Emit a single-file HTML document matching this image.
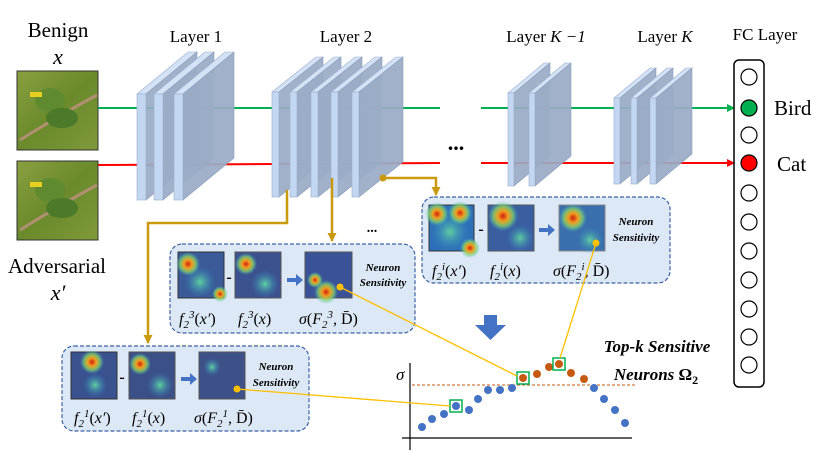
<!DOCTYPE html>
<html><head><meta charset="utf-8"><style>
html,body{margin:0;padding:0;background:#fff;}
svg{display:block;font-family:"Liberation Serif",serif;}
</style></head><body>
<svg width="831" height="471" viewBox="0 0 831 471" xmlns="http://www.w3.org/2000/svg">
<defs>
<radialGradient id="red"><stop offset="0" stop-color="#d02010"/><stop offset="0.35" stop-color="#f0a020"/><stop offset="0.65" stop-color="#8fd060" stop-opacity="0.8"/><stop offset="1" stop-color="#40c0c0" stop-opacity="0"/></radialGradient>
<radialGradient id="cyan"><stop offset="0" stop-color="#60d0a0"/><stop offset="1" stop-color="#3080c0" stop-opacity="0"/></radialGradient>
<linearGradient id="bird" x1="0" y1="0" x2="1" y2="1"><stop offset="0" stop-color="#8aa040"/><stop offset="0.5" stop-color="#6a8a2c"/><stop offset="1" stop-color="#7f9a3a"/></linearGradient>
<marker id="ag" markerWidth="8" markerHeight="8" refX="7" refY="4" orient="auto" markerUnits="userSpaceOnUse"><path d="M0,0 L8,4 L0,8z" fill="#00b050"/></marker>
<marker id="ar" markerWidth="8" markerHeight="8" refX="7" refY="4" orient="auto" markerUnits="userSpaceOnUse"><path d="M0,0 L8,4 L0,8z" fill="#ff0000"/></marker>
<marker id="ay" markerWidth="9" markerHeight="9" refX="8" refY="4.5" orient="auto" markerUnits="userSpaceOnUse"><path d="M0,0 L9,4.5 L0,9z" fill="#c99a10"/></marker>
<symbol id="s1" overflow="visible"><polygon points="0,0 51,-42 60,-42 9,0" fill="#d4e2f6" stroke="#9aaccc" stroke-width="0.6"/><polygon points="9,0 60,-42 60,64 9,106" fill="#9aabc6" fill-opacity="0.93" stroke="#8b9dbb" stroke-width="0.6"/><rect x="0" y="0" width="9" height="106" fill="#c4d7f2" stroke="#9aaccc" stroke-width="0.6"/></symbol>
<symbol id="s2" overflow="visible"><polygon points="0,0 44,-35 51,-35 7,0" fill="#d4e2f6" stroke="#9aaccc" stroke-width="0.6"/><polygon points="7,0 51,-35 51,70 7,105" fill="#9aabc6" fill-opacity="0.93" stroke="#8b9dbb" stroke-width="0.6"/><rect x="0" y="0" width="7" height="105" fill="#c4d7f2" stroke="#9aaccc" stroke-width="0.6"/></symbol>
<symbol id="s3" overflow="visible"><polygon points="0,0 36,-30 42,-30 6,0" fill="#d4e2f6" stroke="#9aaccc" stroke-width="0.6"/><polygon points="6,0 42,-30 42,63 6,93" fill="#9aabc6" fill-opacity="0.93" stroke="#8b9dbb" stroke-width="0.6"/><rect x="0" y="0" width="6" height="93" fill="#c4d7f2" stroke="#9aaccc" stroke-width="0.6"/></symbol>
<symbol id="s4" overflow="visible"><polygon points="0,0 36,-30 42,-30 6,0" fill="#d4e2f6" stroke="#9aaccc" stroke-width="0.6"/><polygon points="6,0 42,-30 42,56 6,86" fill="#9aabc6" fill-opacity="0.93" stroke="#8b9dbb" stroke-width="0.6"/><rect x="0" y="0" width="6" height="86" fill="#c4d7f2" stroke="#9aaccc" stroke-width="0.6"/></symbol>
</defs>

<text x="58" y="37" font-size="21" text-anchor="middle">Benign</text>
<text x="58" y="64" font-size="22" font-style="italic" text-anchor="middle">x</text>
<text x="57" y="273" font-size="21" text-anchor="middle">Adversarial</text>
<text x="58" y="300" font-size="22" font-style="italic" text-anchor="middle">x′</text>
<text x="196" y="42" font-size="17" text-anchor="middle">Layer 1</text>
<text x="346" y="42" font-size="17" text-anchor="middle">Layer 2</text>
<text x="546" y="42" font-size="17" text-anchor="middle">Layer <tspan font-style="italic">K −1</tspan></text>
<text x="665" y="42" font-size="17" text-anchor="middle">Layer <tspan font-style="italic">K</tspan></text>
<text x="765" y="40" font-size="17" text-anchor="middle">FC Layer</text>

<g>
<rect x="17" y="71" width="81" height="79" fill="url(#bird)" stroke="#333" stroke-width="1"/>
<path d="M20,140 Q60,115 97,95" stroke="#b09070" stroke-width="3" fill="none"/>
<ellipse cx="50" cy="100" rx="15" ry="12" fill="#5f8a30"/><ellipse cx="62" cy="118" rx="16" ry="10" fill="#4a7a2a"/>
<rect x="30" y="92" width="12" height="5" fill="#e8d020"/>
<rect x="17" y="161" width="81" height="79" fill="url(#bird)" stroke="#333" stroke-width="1"/>
<path d="M20,230 Q60,205 97,185" stroke="#b09070" stroke-width="3" fill="none"/>
<ellipse cx="50" cy="190" rx="15" ry="12" fill="#5f8a30"/><ellipse cx="62" cy="208" rx="16" ry="10" fill="#4a7a2a"/>
<rect x="30" y="182" width="12" height="5" fill="#e8d020"/>
</g>

<line x1="98" y1="108" x2="440" y2="108" stroke="#00b050" stroke-width="2"/>
<line x1="481" y1="108" x2="734" y2="108" stroke="#00b050" stroke-width="2" marker-end="url(#ag)"/>
<line x1="98" y1="165" x2="440" y2="163" stroke="#ff0000" stroke-width="2"/>
<line x1="481" y1="163" x2="734" y2="163" stroke="#ff0000" stroke-width="2" marker-end="url(#ar)"/>
<text x="456" y="150" font-size="22" font-weight="bold" text-anchor="middle">...</text>

<use href="#s1" x="137" y="94"/><use href="#s1" x="154" y="94"/><use href="#s1" x="174" y="94"/>
<use href="#s2" x="272" y="92"/><use href="#s2" x="290" y="92"/><use href="#s2" x="311" y="92"/><use href="#s2" x="331" y="92"/><use href="#s2" x="352" y="92"/>
<use href="#s3" x="508" y="93"/><use href="#s3" x="529" y="93"/>
<use href="#s4" x="614" y="98"/><use href="#s4" x="631" y="98"/><use href="#s4" x="650" y="98"/>

<rect x="734" y="60" width="30" height="327" rx="5" fill="#fff" stroke="#000" stroke-width="1.5"/>
<g stroke="#000" stroke-width="1.2" fill="#fff">
<circle cx="749" cy="77" r="8"/><circle cx="749" cy="108" r="8" fill="#00b050"/><circle cx="749" cy="135" r="8"/><circle cx="749" cy="163" r="8" fill="#ff0000"/>
<circle cx="749" cy="193" r="8"/><circle cx="749" cy="222" r="8"/><circle cx="749" cy="251" r="8"/><circle cx="749" cy="280" r="8"/><circle cx="749" cy="309" r="8"/><circle cx="749" cy="337" r="8"/><circle cx="749" cy="365" r="8"/>
</g>
<text x="774" y="115" font-size="21">Bird</text>
<text x="777" y="171" font-size="21">Cat</text>

<g stroke="#c99a10" stroke-width="2.5" fill="none">
<polyline points="385,178 436,178 436,195" marker-end="url(#ay)"/>
<line x1="332" y1="178" x2="332" y2="241" marker-end="url(#ay)"/>
<polyline points="287,190 287,223 148,223 148,343" marker-end="url(#ay)"/>
</g>
<circle cx="383" cy="178" r="3.5" fill="#c99a10"/>
<text x="372" y="232" font-size="14" font-weight="bold" text-anchor="middle">...</text>

<g fill="#dce8f5" stroke="#3b62a5" stroke-width="1.2" stroke-dasharray="4,2">
<rect x="422" y="197" width="248" height="86" rx="12"/>
<rect x="170" y="244" width="245" height="89" rx="12"/>
<rect x="62" y="346" width="247" height="85" rx="12"/>
</g>

<g>
<rect x="429" y="205" width="45" height="46" fill="#2e70b8" stroke="#333"/>
<circle cx="450" cy="232" r="20" fill="url(#cyan)"/>
<circle cx="437" cy="214" r="12" fill="url(#red)"/><circle cx="460" cy="213" r="12" fill="url(#red)"/><circle cx="470" cy="248" r="10" fill="url(#red)"/>
<text x="481" y="234" font-size="16" font-weight="bold" text-anchor="middle">-</text>
<rect x="488" y="205" width="46" height="46" fill="#3a5ea0" stroke="#555"/>
<circle cx="520" cy="238" r="14" fill="url(#cyan)"/><circle cx="503" cy="216" r="15" fill="url(#red)"/>
<path d="M539,228 h9 v-4 l7,6 -7,6 v-4 h-9z" fill="#4472c4"/>
<rect x="559" y="205" width="46" height="46" fill="#3a6eac" stroke="#888"/>
<circle cx="590" cy="240" r="14" fill="url(#cyan)"/><circle cx="573" cy="218" r="14" fill="url(#red)"/>
<text x="636" y="225" font-size="11" font-weight="bold" font-style="italic" text-anchor="middle">Neuron</text>
<text x="636" y="241" font-size="11" font-weight="bold" font-style="italic" text-anchor="middle">Sensitivity</text>
<text x="432" y="276" font-size="16" font-style="italic">f<tspan font-size="11" dy="4">2</tspan><tspan font-size="11" dy="-10">i</tspan><tspan dy="6" font-style="normal">(</tspan>x′<tspan font-style="normal">)</tspan></text>
<text x="490" y="276" font-size="16" font-style="italic">f<tspan font-size="11" dy="4">2</tspan><tspan font-size="11" dy="-10">i</tspan><tspan dy="6" font-style="normal">(</tspan>x<tspan font-style="normal">)</tspan></text>
<text x="553" y="276" font-size="16" font-style="italic">σ<tspan font-style="normal">(</tspan>F<tspan font-size="11" dy="4">2</tspan><tspan font-size="11" dy="-10">i</tspan><tspan dy="6" font-style="normal">, D̄)</tspan></text>
</g>
<g>
<rect x="178" y="252" width="46" height="46" fill="#3a5a98" stroke="#333"/>
<circle cx="200" cy="282" r="16" fill="url(#cyan)"/>
<circle cx="188" cy="264" r="12" fill="url(#red)"/><circle cx="220" cy="294" r="8" fill="url(#red)"/>
<text x="229" y="282" font-size="16" font-weight="bold" text-anchor="middle">-</text>
<rect x="235" y="252" width="46" height="46" fill="#3c5290" stroke="#555"/>
<circle cx="265" cy="284" r="14" fill="url(#cyan)"/><circle cx="246" cy="264" r="11" fill="url(#red)"/>
<path d="M287,278 h9 v-4 l7,6 -7,6 v-4 h-9z" fill="#4472c4"/>
<rect x="305" y="252" width="47" height="46" fill="#3a5298" stroke="#555"/>
<circle cx="326" cy="292" r="12" fill="url(#red)"/><circle cx="315" cy="280" r="8" fill="url(#red)"/>
<text x="383" y="271" font-size="11" font-weight="bold" font-style="italic" text-anchor="middle">Neuron</text>
<text x="383" y="286" font-size="11" font-weight="bold" font-style="italic" text-anchor="middle">Sensitivity</text>
<text x="179" y="324" font-size="16" font-style="italic">f<tspan font-size="11" dy="4">2</tspan><tspan font-size="11" dy="-10">3</tspan><tspan dy="6" font-style="normal">(</tspan>x′<tspan font-style="normal">)</tspan></text>
<text x="238" y="324" font-size="16" font-style="italic">f<tspan font-size="11" dy="4">2</tspan><tspan font-size="11" dy="-10">3</tspan><tspan dy="6" font-style="normal">(</tspan>x<tspan font-style="normal">)</tspan></text>
<text x="299" y="324" font-size="16" font-style="italic">σ<tspan font-style="normal">(</tspan>F<tspan font-size="11" dy="4">2</tspan><tspan font-size="11" dy="-10">3</tspan><tspan dy="6" font-style="normal">, D̄)</tspan></text>
</g>
<g>
<rect x="71" y="352" width="46" height="47" fill="#3a5290" stroke="#333"/>
<circle cx="95" cy="385" r="12" fill="url(#cyan)"/><circle cx="92" cy="362" r="12" fill="url(#red)"/>
<text x="122" y="382" font-size="16" font-weight="bold" text-anchor="middle">-</text>
<rect x="129" y="352" width="46" height="47" fill="#3c5088" stroke="#555"/>
<circle cx="160" cy="385" r="13" fill="url(#cyan)"/><circle cx="140" cy="364" r="11" fill="url(#red)"/>
<path d="M181,377 h9 v-4 l7,6 -7,6 v-4 h-9z" fill="#4472c4"/>
<rect x="199" y="352" width="46" height="47" fill="#3e5088" stroke="#555"/>
<circle cx="212" cy="367" r="9" fill="url(#cyan)"/>
<text x="276" y="370" font-size="11" font-weight="bold" font-style="italic" text-anchor="middle">Neuron</text>
<text x="276" y="386" font-size="11" font-weight="bold" font-style="italic" text-anchor="middle">Sensitivity</text>
<text x="74" y="423" font-size="16" font-style="italic">f<tspan font-size="11" dy="4">2</tspan><tspan font-size="11" dy="-10">1</tspan><tspan dy="6" font-style="normal">(</tspan>x′<tspan font-style="normal">)</tspan></text>
<text x="132" y="423" font-size="16" font-style="italic">f<tspan font-size="11" dy="4">2</tspan><tspan font-size="11" dy="-10">1</tspan><tspan dy="6" font-style="normal">(</tspan>x<tspan font-style="normal">)</tspan></text>
<text x="194" y="423" font-size="16" font-style="italic">σ<tspan font-style="normal">(</tspan>F<tspan font-size="11" dy="4">2</tspan><tspan font-size="11" dy="-10">1</tspan><tspan dy="6" font-style="normal">, D̄)</tspan></text>
</g>

<path d="M484,315 h13 v10 h9 l-15.5,15 -15.5,-15 h9z" fill="#4472c4"/>

<line x1="410" y1="363" x2="410" y2="450" stroke="#000" stroke-width="1.2"/>
<line x1="402" y1="438" x2="632" y2="438" stroke="#000" stroke-width="1.2"/>
<text x="396" y="380" font-size="17" font-style="italic">σ</text>
<line x1="412" y1="385" x2="635" y2="385" stroke="#c55a11" stroke-width="1" stroke-dasharray="3,2"/>
<g fill="#4472c4">
<circle cx="422" cy="427" r="4"/><circle cx="432" cy="419" r="4"/><circle cx="444" cy="414" r="4"/><circle cx="456" cy="406" r="4"/><circle cx="469" cy="410" r="4"/><circle cx="478" cy="399" r="4"/><circle cx="488" cy="390" r="4"/><circle cx="500" cy="390" r="4"/><circle cx="512" cy="388" r="4"/><circle cx="594" cy="388" r="4"/><circle cx="604" cy="399" r="4"/><circle cx="615" cy="410" r="4"/><circle cx="625" cy="423" r="4"/>
</g>
<g fill="#c55a11">
<circle cx="523" cy="378" r="4"/><circle cx="537" cy="374" r="4"/><circle cx="549" cy="367" r="4"/><circle cx="559" cy="364" r="4"/><circle cx="571" cy="373" r="4"/><circle cx="584" cy="379" r="4"/>
</g>
<g fill="none" stroke="#00b050" stroke-width="1.5">
<rect x="450" y="400" width="12" height="12"/><rect x="517" y="372" width="12" height="12"/><rect x="553" y="358" width="12" height="12"/>
</g>
<g stroke="#ffc000" stroke-width="1.3">
<line x1="596" y1="243" x2="560" y2="358"/>
<line x1="340" y1="287" x2="517" y2="376"/>
<line x1="237" y1="389" x2="450" y2="406"/>
</g>
<g fill="#ffc000"><circle cx="596" cy="243" r="3.5"/><circle cx="340" cy="287" r="3.5"/><circle cx="237" cy="389" r="3.5"/></g>
<text x="657" y="352" font-size="17" font-weight="bold" font-style="italic" text-anchor="middle">Top-k Sensitive</text>
<text x="656" y="380" font-size="17" font-weight="bold" font-style="italic" text-anchor="middle">Neurons <tspan font-style="normal">Ω</tspan><tspan font-size="12" dy="4" font-style="normal">2</tspan></text>
</svg>
</body></html>
